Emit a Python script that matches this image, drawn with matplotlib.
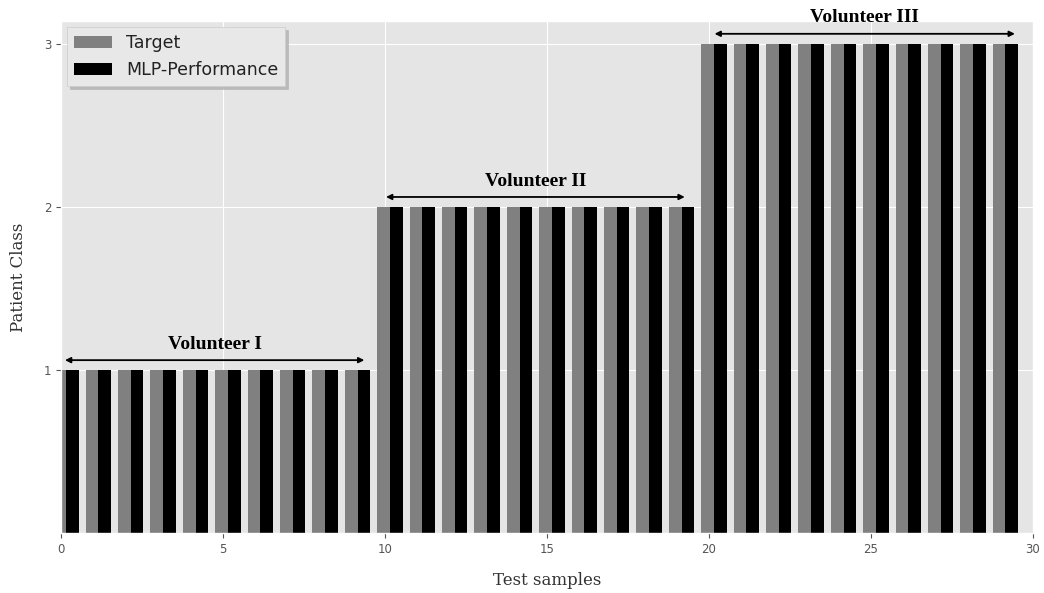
import matplotlib
matplotlib.use("Agg")
import matplotlib.pyplot as plt
import numpy as np

plt.style.use("ggplot")

samples = np.arange(30)
target = [1]*10 + [2]*10 + [3]*10
mlp_performance = [1]*10 + [2]*10 + [3]*10
groups = ["Volunteer I", "Volunteer II", "Volunteer III"]
group_ranges = [(0.12, 9.36), (10.03, 19.25), (20.17, 29.44)]
group_levels = [1, 2, 3]

fig = plt.figure(figsize=(10.44, 5.93), dpi=100)
ax = fig.add_axes([0.0585, 0.101, 0.931, 0.864])

w = 0.39
centers = samples + 0.15
ax.bar(centers - w/2, target, width=w, color="#808080", label="Target")
ax.bar(centers + w/2, mlp_performance, width=w, color="#000000", label="MLP-Performance")

ax.set_xlim(0, 30)
ax.set_ylim(0, 3.14)
ax.set_xticks([0, 5, 10, 15, 20, 25, 30])
ax.set_yticks([1, 2, 3])
ax.tick_params(axis="both", labelsize=8.5, colors="#555555")

for name, (x0, x1), lvl in zip(groups, group_ranges, group_levels):
    ay = lvl + 0.06
    ax.annotate("", xy=(x0, ay), xytext=(x1, ay),
                arrowprops=dict(arrowstyle="<|-|>", color="black", lw=1.3,
                                mutation_scale=8, shrinkA=0, shrinkB=0),
                annotation_clip=False)
    ax.text((x0 + x1) / 2, ay + 0.045, name, ha="center", va="bottom",
            family="Liberation Serif", fontweight="bold", fontsize=14,
            color="black", clip_on=False)

ax.set_xlabel("Test samples", family="DejaVu Serif", fontsize=12,
              color="#333333", labelpad=12)
ax.set_ylabel("Patient Class", family="DejaVu Serif", fontsize=12,
              color="#333333", labelpad=12)

leg = ax.legend(loc="upper left", fontsize=12.5, frameon=True,
                shadow={"color": "#b0b0b0", "alpha": 0.8},
                fancybox=False, facecolor="#E8E8E8", edgecolor="#CCCCCC",
                borderaxespad=0.35, handlelength=2.2, labelspacing=0.55,
                handletextpad=0.8)
for t in leg.get_texts():
    t.set_color("#222222")

fig.savefig("out.png", dpi=100, facecolor="white")
